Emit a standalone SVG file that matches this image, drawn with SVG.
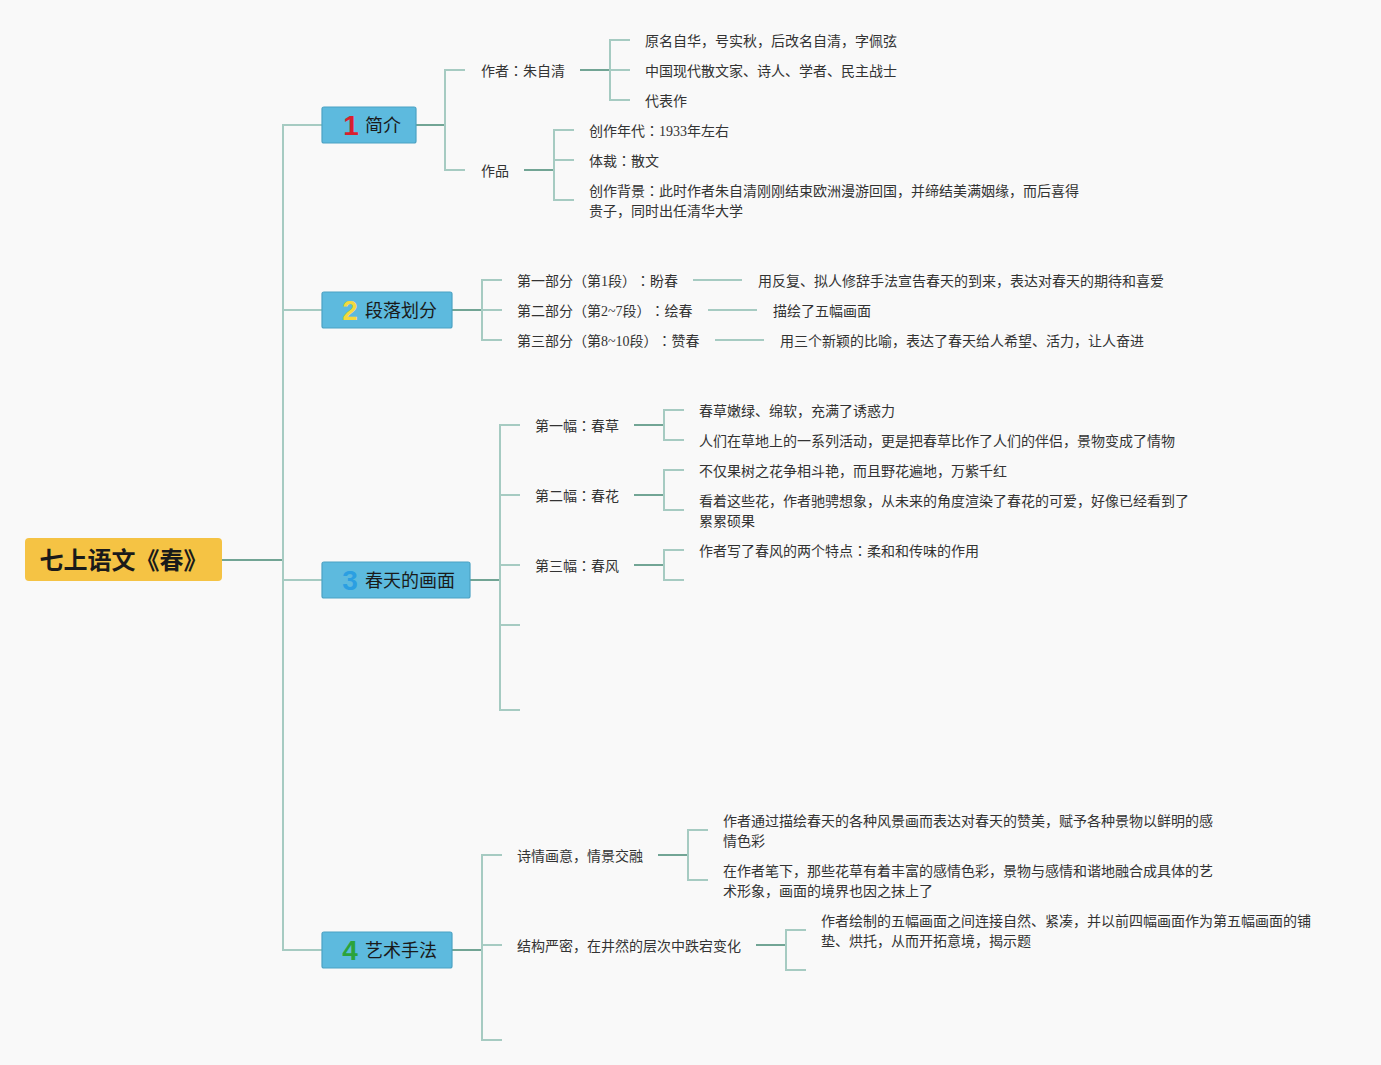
<svg xmlns="http://www.w3.org/2000/svg" width="1381" height="1065" viewBox="0 0 1381 1065">
<style>
.bg{fill:#f9f9f9}
.ln{stroke:#a6cbc2;stroke-width:2;fill:none}
.lnd{stroke:#72a595;stroke-width:2;fill:none}
.root{fill:#f5c344}
.br{fill:#5dbade;stroke:#4ba2c4;stroke-width:1.2}
text{text-spacing-trim:space-all}
.rt{font-family:"Noto Sans CJK SC","Noto Sans",sans-serif;font-size:24px;font-weight:bold;fill:#1a1a1a}
.bt{font-family:"Noto Sans CJK SC","Noto Sans",sans-serif;font-size:18px;fill:#1a1a1a}
.num{font-family:"Liberation Sans","Noto Sans",sans-serif;font-size:28px;font-weight:bold}
.t{font-family:"Noto Sans CJK SC","Noto Sans",sans-serif;font-size:14px;fill:#333}
.d{font-family:"Liberation Serif",serif}
.c{font-family:"Noto Sans CJK TC","Noto Sans CJK SC",sans-serif}
</style>
<rect class="bg" x="0" y="0" width="1381" height="1065"/>

<g id="connectors">
  <line class="lnd" x1="222" y1="560" x2="283" y2="560"/>
  <path class="ln" d="M322 125 H283 V950 H322 M283 310 H322 M283 580 H322"/>
  <line class="lnd" x1="416" y1="125" x2="445" y2="125"/>
  <path class="ln" d="M465 70 H445 V170 H465"/>
  <line class="lnd" x1="580" y1="70" x2="610" y2="70"/>
  <path class="ln" d="M630 40 H610 V100 H630 M610 70 H630"/>
  <line class="lnd" x1="524" y1="170" x2="554" y2="170"/>
  <path class="ln" d="M574 130 H554 V200 H574 M554 160 H574"/>
  <line class="lnd" x1="452" y1="310" x2="482" y2="310"/>
  <path class="ln" d="M502 280 H482 V340 H502 M482 310 H502"/>
  <line class="ln" x1="693" y1="280" x2="742" y2="280"/>
  <line class="ln" x1="708" y1="310" x2="757" y2="310"/>
  <line class="ln" x1="715" y1="340" x2="764" y2="340"/>
  <line class="lnd" x1="470" y1="580" x2="500" y2="580"/>
  <path class="ln" d="M520 425 H500 V710 H520 M500 495 H520 M500 565 H520 M500 625 H520"/>
  <line class="lnd" x1="634" y1="425" x2="664" y2="425"/>
  <path class="ln" d="M684 410 H664 V440 H684"/>
  <line class="lnd" x1="634" y1="495" x2="664" y2="495"/>
  <path class="ln" d="M684 470 H664 V510 H684"/>
  <line class="lnd" x1="634" y1="565" x2="664" y2="565"/>
  <path class="ln" d="M684 550 H664 V580 H684"/>
  <line class="lnd" x1="452" y1="950" x2="482" y2="950"/>
  <path class="ln" d="M502 855 H482 V1040 H502 M482 945 H502"/>
  <line class="lnd" x1="658" y1="855" x2="688" y2="855"/>
  <path class="ln" d="M708 830 H688 V880 H708"/>
  <line class="lnd" x1="756" y1="945" x2="786" y2="945"/>
  <path class="ln" d="M806 930 H786 V970 H806"/>
</g>

<g id="root">
  <rect class="root" x="25" y="538" width="197" height="43" rx="4"/>
  <text class="rt" x="123.5" y="568.5" text-anchor="middle">七上语文《春》</text>
</g>

<g id="n1">
  <rect class="br" x="322" y="107" width="94" height="36" rx="2"/>
  <text class="num" x="351" y="135" text-anchor="middle" fill="#d91f2e">1</text>
  <text class="bt" x="365" y="132">简介</text>
</g>
<g id="n1-author"><text class="t" x="481" y="76">作者<tspan class="c">：</tspan>朱自清</text></g>
<g id="n1-a1"><text class="t" x="645" y="46">原名自华，号实秋，后改名自清，字佩弦</text></g>
<g id="n1-a2"><text class="t" x="645" y="76">中国现代散文家、诗人、学者、民主战士</text></g>
<g id="n1-a3"><text class="t" x="645" y="106">代表作</text></g>
<g id="n1-work"><text class="t" x="481" y="176">作品</text></g>
<g id="n1-w1"><text class="t" x="589" y="136">创作年代<tspan class="c">：</tspan><tspan class="d">1933</tspan>年左右</text></g>
<g id="n1-w2"><text class="t" x="589" y="166">体裁<tspan class="c">：</tspan>散文</text></g>
<g id="n1-w3"><text class="t" x="589" y="196">创作背景<tspan class="c">：</tspan>此时作者朱自清刚刚结束欧洲漫游回国，并缔结美满姻缘，而后喜得</text><text class="t" x="589" y="216">贵子，同时出任清华大学</text></g>

<g id="n2">
  <rect class="br" x="322" y="292" width="130" height="36" rx="2"/>
  <text class="num" x="350" y="320" text-anchor="middle" fill="#f4d93e">2</text>
  <text class="bt" x="365" y="317">段落划分</text>
</g>
<g id="n2-p1"><text class="t" x="517" y="286">第一部分（第<tspan class="d">1</tspan>段）<tspan class="c">：</tspan>盼春</text></g>
<g id="n2-p1d"><text class="t" x="758" y="286">用反复、拟人修辞手法宣告春天的到来，表达对春天的期待和喜爱</text></g>
<g id="n2-p2"><text class="t" x="517" y="316">第二部分（第<tspan class="d">2~7</tspan>段）<tspan class="c">：</tspan>绘春</text></g>
<g id="n2-p2d"><text class="t" x="773" y="316">描绘了五幅画面</text></g>
<g id="n2-p3"><text class="t" x="517" y="346">第三部分（第<tspan class="d">8~10</tspan>段）<tspan class="c">：</tspan>赞春</text></g>
<g id="n2-p3d"><text class="t" x="780" y="346">用三个新颖的比喻，表达了春天给人希望、活力，让人奋进</text></g>

<g id="n3">
  <rect class="br" x="322" y="562" width="148" height="36" rx="2"/>
  <text class="num" x="350" y="590" text-anchor="middle" fill="#2b9fe2">3</text>
  <text class="bt" x="365" y="587">春天的画面</text>
</g>
<g id="n3-f1"><text class="t" x="535" y="431">第一幅<tspan class="c">：</tspan>春草</text></g>
<g id="n3-f1a"><text class="t" x="699" y="416">春草嫩绿、绵软，充满了诱惑力</text></g>
<g id="n3-f1b"><text class="t" x="699" y="446">人们在草地上的一系列活动，更是把春草比作了人们的伴侣，景物变成了情物</text></g>
<g id="n3-f2"><text class="t" x="535" y="501">第二幅<tspan class="c">：</tspan>春花</text></g>
<g id="n3-f2a"><text class="t" x="699" y="476">不仅果树之花争相斗艳，而且野花遍地，万紫千红</text></g>
<g id="n3-f2b"><text class="t" x="699" y="506">看着这些花，作者驰骋想象，从未来的角度渲染了春花的可爱，好像已经看到了</text><text class="t" x="699" y="526">累累硕果</text></g>
<g id="n3-f3"><text class="t" x="535" y="571">第三幅<tspan class="c">：</tspan>春风</text></g>
<g id="n3-f3a"><text class="t" x="699" y="556">作者写了春风的两个特点<tspan class="c">：</tspan>柔和和传味的作用</text></g>

<g id="n4">
  <rect class="br" x="322" y="932" width="130" height="36" rx="2"/>
  <text class="num" x="350" y="960" text-anchor="middle" fill="#2ba33b">4</text>
  <text class="bt" x="365" y="957">艺术手法</text>
</g>
<g id="n4-a"><text class="t" x="517" y="861">诗情画意，情景交融</text></g>
<g id="n4-a1"><text class="t" x="723" y="826">作者通过描绘春天的各种风景画而表达对春天的赞美，赋予各种景物以鲜明的感</text><text class="t" x="723" y="846">情色彩</text></g>
<g id="n4-a2"><text class="t" x="723" y="876">在作者笔下，那些花草有着丰富的感情色彩，景物与感情和谐地融合成具体的艺</text><text class="t" x="723" y="896">术形象，画面的境界也因之抹上了</text></g>
<g id="n4-b"><text class="t" x="517" y="951">结构严密，在井然的层次中跌宕变化</text></g>
<g id="n4-b1"><text class="t" x="821" y="926">作者绘制的五幅画面之间连接自然、紧凑，并以前四幅画面作为第五幅画面的铺</text><text class="t" x="821" y="946">垫、烘托，从而开拓意境，揭示题</text></g>
</svg>
